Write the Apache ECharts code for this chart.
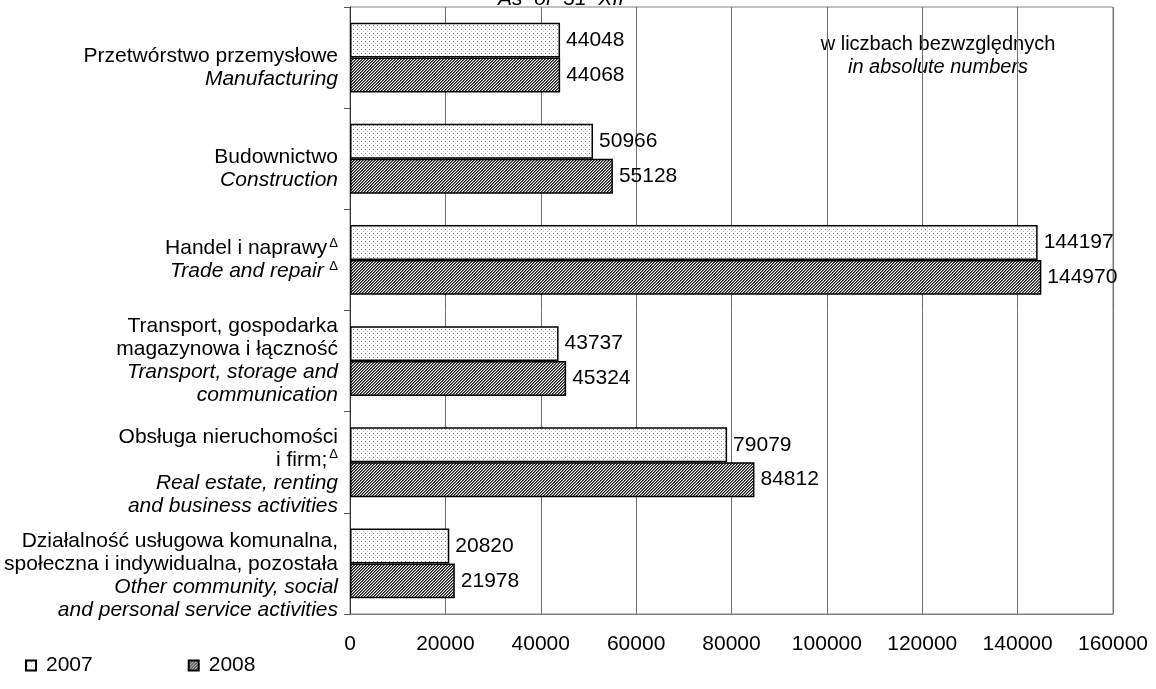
<!DOCTYPE html>
<html>
<head>
<meta charset="utf-8">
<script src="https://cdn.jsdelivr.net/npm/echarts@6/dist/echarts.min.js"></script>
<style>
html,body{margin:0;padding:0;background:#fff;}
#chart{width:1156px;height:689px;}
</style>
</head>
<body>
<div id="chart"></div>
<script>
// ---- data ----
const catPL = [
  ["Przetwórstwo przemysłowe"],
  ["Budownictwo"],
  ["Handel i naprawy"],
  ["Transport, gospodarka", "magazynowa i łączność"],
  ["Obsługa nieruchomości", "i firm;"],
  ["Działalność usługowa komunalna,", "społeczna i indywidualna, pozostała"]
];
const catEN = [
  ["Manufacturing"],
  ["Construction"],
  ["Trade and repair"],
  ["Transport, storage and", "communication"],
  ["Real estate, renting", "and business activities"],
  ["Other community, social", "and personal service activities"]
];
const plDelta = [0, 0, 1, 0, 1, 0];
const enDelta = [0, 0, 1, 0, 0, 0];
const seriesNames = ["2007", "2008"];
const values2007 = [44048, 50966, 144197, 43737, 79079, 20820];
const values2008 = [44068, 55128, 144970, 45324, 84812, 21978];
const xTicks = [0, 20000, 40000, 60000, 80000, 100000, 120000, 140000, 160000];
const titleText = "As  of  31  XII";
const noteLines = ["w liczbach bezwzględnych", "in absolute numbers"];

// layout-only: extra top spacing for label blocks
const labelShift = [20, 20, 0, 0, 18, 24];

const FONT = "'Liberation Sans', Arial, sans-serif";
const FS = 21;

function makeDots() {
  const c = document.createElement('canvas');
  c.width = 4; c.height = 4;
  const g = c.getContext('2d');
  g.fillStyle = '#fff'; g.fillRect(0, 0, 4, 4);
  g.fillStyle = '#8a8a8a';
  g.fillRect(1, 1, 1, 1);
  g.fillStyle = '#c8c8c8';
  g.fillRect(3, 3, 1, 1);
  return c;
}
function makeHatch() {
  const n = 3;
  const c = document.createElement('canvas');
  c.width = n; c.height = n;
  const g = c.getContext('2d');
  g.fillStyle = '#fff'; g.fillRect(0, 0, n, n);
  for (let x = 0; x < n; x++) for (let y = 0; y < n; y++) {
    const k = (x + y) % n;
    if (k === 0) { g.fillStyle = '#1e1e1e'; g.fillRect(x, y, 1, 1); }
    else if (k === 1) { g.fillStyle = '#6a6a6a'; g.fillRect(x, y, 1, 1); }
  }
  return c;
}

const cats = catPL.map((p, i) => String(i));

const chart = echarts.init(document.getElementById('chart'), null, {renderer: 'canvas'});
const option = {
  animation: false,
  backgroundColor: '#fff',
  textStyle: {fontFamily: FONT},
  grid: {left: 350, right: 43, top: 7, bottom: 75, show: true, borderColor: '#808080', borderWidth: 1, containLabel: false},
  xAxis: {
    type: 'value', min: xTicks[0], max: xTicks[xTicks.length - 1], interval: xTicks[1] - xTicks[0],
    axisLine: {show: true, lineStyle: {color: '#808080', width: 1}},
    axisTick: {show: false},
    splitLine: {show: true, lineStyle: {color: '#707070', width: 1}},
    axisLabel: {fontSize: FS, color: '#000', fontFamily: FONT, margin: 20, formatter: v => String(v)}
  },
  yAxis: {
    type: 'category', data: cats, inverse: true,
    axisLine: {show: true, lineStyle: {color: '#333', width: 1}},
    axisTick: {show: true, length: 6, lineStyle: {color: '#555'}},
    axisLabel: {
      margin: 12, align: 'right',
      formatter: function (v, idx) {
        const i = +v;
        const lines = [];
        if (labelShift[i] > 0) lines.push('{sp' + labelShift[i] + '| }');
        catPL[i].forEach((t, k) => {
          let s = '{pl|' + t + '}';
          if (k === catPL[i].length - 1 && plDelta[i]) s += '{sup|Δ}';
          lines.push(s);
        });
        catEN[i].forEach((t, k) => {
          let s = '{en|' + t + '}';
          if (k === catEN[i].length - 1 && enDelta[i]) s += '{sup| Δ}';
          lines.push(s);
        });
        return lines.join('\n');
      },
      rich: (function () {
        const r = {
          pl: {fontSize: FS, fontFamily: FONT, color: '#000', lineHeight: 23},
          en: {fontSize: FS, fontFamily: FONT, color: '#000', fontStyle: 'italic', lineHeight: 23},
          sup: {fontSize: 13, fontFamily: FONT, color: '#000', lineHeight: 23, verticalAlign: 'top', padding: [0, 0, 0, 2]}
        };
        labelShift.forEach(h => { if (h > 0) r['sp' + h] = {fontSize: 1, lineHeight: h}; });
        return r;
      })()
    }
  },
  legend: {
    left: 20, top: 650, itemWidth: 10, itemHeight: 10, itemGap: 95, icon: 'rect',
    textStyle: {fontSize: FS, color: '#000', fontFamily: FONT, padding: [0, 0, 0, 5]},
    data: seriesNames
  },
  graphic: [
    {type: 'text', style: {text: titleText, x: 561, y: -11, fontSize: FS, fontStyle: 'italic', fontFamily: FONT, fill: '#000', align: 'center'}},
    {type: 'text', style: {text: noteLines[0], x: 938, y: 34, fontSize: 20, fontFamily: FONT, fill: '#000', align: 'center'}},
    {type: 'text', style: {text: noteLines[1], x: 938, y: 57, fontSize: 20, fontStyle: 'italic', fontFamily: FONT, fill: '#000', align: 'center'}}
  ],
  series: [
    {
      name: seriesNames[0], type: 'bar', data: values2007,
      barGap: '0%', barCategoryGap: '31%',
      itemStyle: {color: {image: makeDots(), repeat: 'repeat'}, borderColor: '#000', borderWidth: 1.5},
      label: {show: true, position: 'right', distance: 6, fontSize: FS, color: '#000', fontFamily: FONT}
    },
    {
      name: seriesNames[1], type: 'bar', data: values2008,
      barGap: '0%', barCategoryGap: '31%',
      itemStyle: {color: {image: makeHatch(), repeat: 'repeat'}, borderColor: '#000', borderWidth: 1.5},
      label: {show: true, position: 'right', distance: 6, fontSize: FS, color: '#000', fontFamily: FONT}
    }
  ]
};
chart.setOption(option);
</script>
</body>
</html>
